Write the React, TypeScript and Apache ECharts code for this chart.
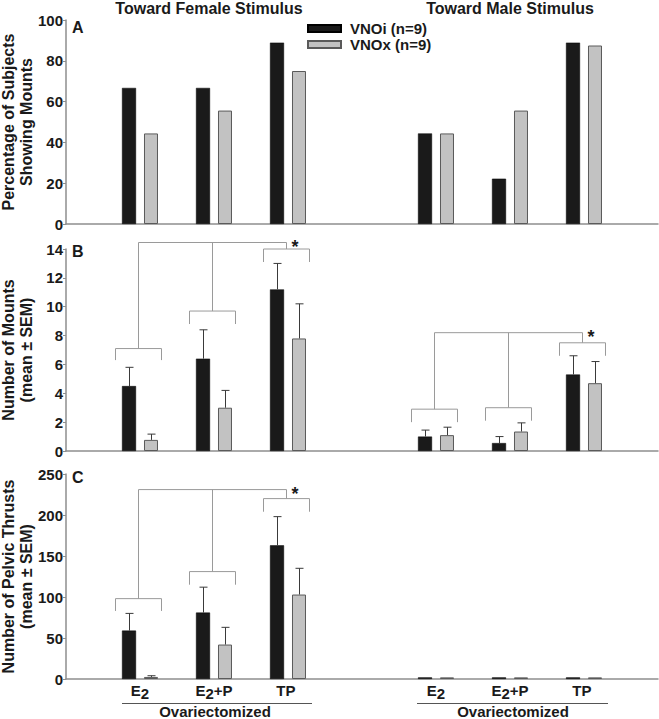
import React, { useEffect, useRef } from "react";
import * as echarts from "echarts";

// ---------- data ----------
const categories = ["", "E2", "E2+P", "TP", "", "E2", "E2+P", "TP", ""];
const groupSlots = [1, 2, 3, 5, 6, 7];
const seriesNames = ["VNOi (n=9)", "VNOx (n=9)"];
const stimulusTitles = ["Toward Female Stimulus", "Toward Male Stimulus"];
const panelLetters = ["A", "B", "C"];
const axisNames = [
  "Percentage of Subjects\nShowing Mounts",
  "Number of Mounts\n(mean ± SEM)",
  "Number of Pelvic Thrusts\n(mean ± SEM)",
];
const groupLabel = "Ovariectomized";

// Panel A: percentage of subjects showing mounts
const pctVNOi = [66.7, 66.7, 88.9, 44.4, 22.2, 88.9];
const pctVNOx = [44.4, 55.6, 75.0, 44.4, 55.6, 87.5];

// Panel B: number of mounts (mean, SEM)
const mountsVNOi = [4.5, 6.4, 11.2, 1.0, 0.55, 5.3];
const mountsVNOiSem = [1.3, 2.0, 1.8, 0.45, 0.45, 1.3];
const mountsVNOx = [0.77, 3.0, 7.8, 1.1, 1.35, 4.7];
const mountsVNOxSem = [0.4, 1.2, 2.4, 0.55, 0.6, 1.5];

// Panel C: number of pelvic thrusts (mean, SEM)
const thrustsVNOi = [59, 81, 163, 2, 2, 2];
const thrustsVNOiSem = [21, 31, 35, 0, 0, 0];
const thrustsVNOx = [2.5, 42, 103, 2, 2, 2];
const thrustsVNOxSem = [1.5, 21, 32, 0, 0, 0];

// y axes: max and interval
const yMax = [100, 14, 250];
const yInterval = [20, 2, 50];

// significance brackets (families of three)
const mountsBracketSlots = [1, 2, 3, 5, 6, 7];
const mountsBracketTop = [7.1, 9.7, 14.0, 2.9, 3.0, 7.5];
const mountsBracketLeg = [6.3, 8.8, 13.1, 2.0, 2.1, 6.6];
const mountsLinkLevel = [14.45, 8.2];

const thrustsBracketSlots = [1, 2, 3];
const thrustsBracketTop = [98, 131, 220];
const thrustsBracketLeg = [83, 115, 204];
const thrustsLinkLevel = [231];

// ---------- styles ----------
const FONT = "'Liberation Sans', Arial, Helvetica, sans-serif";
const TEXT = "#1a1a1a";
const AXIS = "#8e8e8e";
const ERR = "#3a3a3a";
const BRACKET = "#9a9a9a";
const BLACK = "#1a1a1a";
const GRAY = "#c2c2c2";
const BAR_W = 14;
const BAR_OFF = 11;

const grids = [
  { left: 66, right: 1, top: 20, height: 204, outerBoundsMode: "none", containLabel: false },
  { left: 66, right: 1, top: 249, height: 202, outerBoundsMode: "none", containLabel: false },
  { left: 66, right: 1, top: 474, height: 205, outerBoundsMode: "none", containLabel: false },
];

function slotted(vals: number[]) {
  return categories.map((_, i) => {
    const k = groupSlots.indexOf(i);
    return k >= 0 ? vals[k] : "-";
  });
}

function errData(means: number[], sems: number[]) {
  return groupSlots
    .map((s, k) => [s, means[k], sems[k]])
    .filter((d) => d[2] > 0);
}

function errRender(offset: number) {
  return (params: any, api: any) => {
    const s = api.value(0);
    const m = api.value(1);
    const e = api.value(2);
    const b = api.coord([s, m]);
    const t = api.coord([s, m + e]);
    const x = Math.round(b[0] + offset) + 0.5;
    return {
      type: "group",
      children: [
        { type: "line", shape: { x1: x, y1: b[1], x2: x, y2: t[1] }, style: { stroke: ERR, lineWidth: 1 } },
        { type: "line", shape: { x1: x - 4, y1: t[1], x2: x + 4, y2: t[1] }, style: { stroke: ERR, lineWidth: 1 } },
      ],
    };
  };
}

function bracketData(slots: number[], tops: number[], legs: number[], links: number[]) {
  return slots.map((s, i) => {
    const fam = Math.floor(i / 3);
    return [s, tops[i], legs[i], links[fam], slots[fam * 3], i % 3 === 2 ? 1 : 0];
  });
}

function bracketRender(params: any, api: any) {
  const s = api.value(0);
  const top = api.value(1);
  const leg = api.value(2);
  const link = api.value(3);
  const first = api.value(4);
  const last = api.value(5);
  const c = api.coord([s, top]);
  const l = api.coord([s, leg]);
  const k = api.coord([s, link]);
  const hw = 23;
  const cx = Math.round(c[0]) - 1.5;
  const children: any[] = [
    {
      type: "polyline",
      shape: { points: [[cx - hw, l[1]], [cx - hw, c[1]], [cx + hw, c[1]], [cx + hw, l[1]]] },
      style: { stroke: BRACKET, lineWidth: 1, fill: null },
    },
    { type: "line", shape: { x1: cx, y1: c[1], x2: cx, y2: k[1] }, style: { stroke: BRACKET, lineWidth: 1 } },
  ];
  if (last) {
    const f = api.coord([first, link]);
    const fx = Math.round(f[0]) - 1.5;
    children.push({ type: "line", shape: { x1: fx, y1: k[1], x2: cx, y2: k[1] }, style: { stroke: BRACKET, lineWidth: 1 } });
    children.push({
      type: "text",
      style: { text: "*", x: cx + 5, y: k[1] - 5, fontSize: 18, fontWeight: "bold", fontFamily: FONT, fill: TEXT, align: "left", verticalAlign: "top" },
    });
  }
  return { type: "group", children };
}

function xLabel(v: string) {
  if (!v) return "";
  if (v === "E2") return "{e|E}{s|2}";
  if (v === "E2+P") return "{e|E}{s|2}{e|+P}";
  return "{e|" + v + "}{s| }";
}

export default function App() {
  const ref = useRef<HTMLDivElement>(null);
  useEffect(() => {
    if (!ref.current) return;
    const chart = echarts.init(ref.current, null, { renderer: "svg" });

    const xAxes = grids.map((_, g) => ({
      type: "category",
      gridIndex: g,
      data: categories,
      boundaryGap: false,
      axisLine: { show: true, lineStyle: { color: AXIS, width: 1.5 } },
      axisTick: { show: false },
      axisLabel: {
        show: g === 2,
        interval: 0,
        margin: 1,
        formatter: xLabel,
        rich: {
          e: { fontSize: 15, fontWeight: "bold", color: TEXT, fontFamily: FONT },
          s: { fontSize: 15, fontWeight: "bold", color: TEXT, fontFamily: FONT, padding: [6, 0, 0, 0] },
        },
      },
      splitLine: { show: false },
    }));

    const yAxes = grids.map((_, g) => ({
      type: "value",
      gridIndex: g,
      min: 0,
      max: yMax[g],
      interval: yInterval[g],
      name: axisNames[g],
      nameLocation: "middle",
      nameRotate: 90,
      nameGap: 31,
      nameMoveOverlap: false,
      nameTextStyle: { fontSize: 16, fontWeight: "bold", color: TEXT, fontFamily: FONT, lineHeight: 18 },
      axisLine: { show: true, lineStyle: { color: AXIS, width: 1.5 } },
      axisTick: { show: true, length: 3, lineStyle: { color: AXIS } },
      axisLabel: { fontSize: 15, fontWeight: "bold", color: TEXT, fontFamily: FONT, margin: 3 },
      splitLine: { show: false },
    }));

    const barStyle = [
      { color: BLACK, borderColor: "#000", borderWidth: 0.5 },
      { color: GRAY, borderColor: "#5a5a5a", borderWidth: 1 },
    ];

    const panels = [
      { means: [pctVNOi, pctVNOx], sems: null as any },
      { means: [mountsVNOi, mountsVNOx], sems: [mountsVNOiSem, mountsVNOxSem] },
      { means: [thrustsVNOi, thrustsVNOx], sems: [thrustsVNOiSem, thrustsVNOxSem] },
    ];

    const series: any[] = [];
    panels.forEach((p, g) => {
      [0, 1].forEach((j) => {
        series.push({
          name: seriesNames[j],
          type: "bar",
          xAxisIndex: g,
          yAxisIndex: g,
          data: slotted(p.means[j]),
          barWidth: BAR_W,
          barGap: "57%",
          itemStyle: barStyle[j],
          emphasis: { disabled: true },
        });
      });
      if (p.sems) {
        [0, 1].forEach((j) => {
          series.push({
            name: seriesNames[j] + " SEM",
            type: "custom",
            xAxisIndex: g,
            yAxisIndex: g,
            data: errData(p.means[j], p.sems[j]),
            renderItem: errRender(j === 0 ? -BAR_OFF : BAR_OFF),
            z: 3,
            silent: true,
          });
        });
      }
    });

    series.push({
      name: "mounts brackets",
      type: "custom",
      xAxisIndex: 1,
      yAxisIndex: 1,
      data: bracketData(mountsBracketSlots, mountsBracketTop, mountsBracketLeg, mountsLinkLevel),
      renderItem: bracketRender,
      clip: false,
      silent: true,
      z: 4,
    });
    series.push({
      name: "thrusts brackets",
      type: "custom",
      xAxisIndex: 2,
      yAxisIndex: 2,
      data: bracketData(thrustsBracketSlots, thrustsBracketTop, thrustsBracketLeg, thrustsLinkLevel),
      renderItem: bracketRender,
      clip: false,
      silent: true,
      z: 4,
    });

    const titleX = [209, 510];
    const letterY = [27, 251, 477];
    const groupLines = [
      [122, 312, 215],
      [417, 608, 513],
    ];

    const graphic: any[] = [];
    stimulusTitles.forEach((t, i) =>
      graphic.push({
        type: "text",
        style: { text: t, x: titleX[i], y: 8, align: "center", verticalAlign: "middle", fontSize: 16, fontWeight: "bold", fontFamily: FONT, fill: TEXT },
      })
    );
    panelLetters.forEach((t, i) =>
      graphic.push({
        type: "text",
        style: { text: t, x: 72, y: letterY[i], align: "left", verticalAlign: "middle", fontSize: 16, fontWeight: "bold", fontFamily: FONT, fill: TEXT },
      })
    );
    groupLines.forEach((gl) => {
      graphic.push({ type: "line", shape: { x1: gl[0], y1: 703.5, x2: gl[1], y2: 703.5 }, style: { stroke: "#555", lineWidth: 1 } });
      graphic.push({
        type: "text",
        style: { text: groupLabel, x: gl[2], y: 719, align: "center", verticalAlign: "bottom", fontSize: 15, fontWeight: "bold", fontFamily: FONT, fill: TEXT },
      });
    });

    chart.setOption({
      animation: false,
      backgroundColor: "#ffffff",
      textStyle: { fontFamily: FONT },
      grid: grids,
      xAxis: xAxes,
      yAxis: yAxes,
      legend: {
        data: seriesNames,
        orient: "vertical",
        left: 307,
        top: 21,
        itemWidth: 33,
        itemHeight: 7,
        itemGap: 1,
        padding: 0,
        icon: "rect",
        selectedMode: false,
        textStyle: { fontSize: 15, fontWeight: "bold", color: TEXT, fontFamily: FONT, padding: [0, 0, 0, 4] },
      },
      series,
      graphic,
    });
    return () => chart.dispose();
  }, []);
  return (
    <div
      ref={ref}
      style={{ position: "fixed", left: 0, top: 0, width: 659, height: 719, background: "#fff" }}
    />
  );
}
